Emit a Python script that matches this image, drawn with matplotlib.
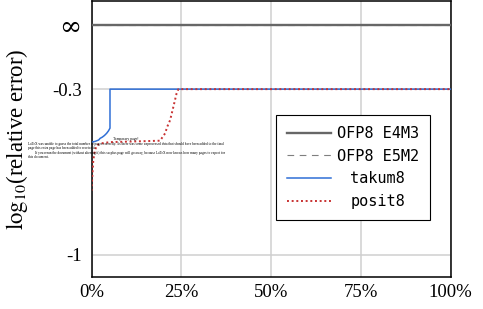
import numpy as np
import matplotlib
matplotlib.use("Agg")
import matplotlib.pyplot as plt

plt.rcParams['font.family'] = ['Liberation Serif', 'DejaVu Serif']
plt.rcParams['mathtext.fontset'] = 'stix'

# ---- data (x in percent, y = log10(relative error); inf = infinite error) ----
x_ticks = [0, 25, 50, 75, 100]
x_ticklabels = ['0%', '25%', '50%', '75%', '100%']
y_ticks = [-1, -0.3, np.inf]
y_ticklabels = ['-1', '-0.3', '∞']

e4m3_x = [0, 100]
e4m3_y = [np.inf, np.inf]
e5m2_x = [0, 100]
e5m2_y = [np.inf, np.inf]
takum8_x = [0, 1, 2, 2.4, 3, 3.6, 4.2, 4.7, 5.15, 5.15, 100]
takum8_y = [-0.524, -0.521, -0.515, -0.508, -0.503, -0.496, -0.487, -0.477, -0.465, -0.3, -0.3]
posit8_x = [0, 0.33, 0.5, 0.97, 1.6, 2.8, 5.15, 19.1, 20.5, 21.1, 21.9, 22.8, 23.7, 24.2, 100]
posit8_y = [-0.73, -0.642, -0.600, -0.557, -0.536, -0.529, -0.524, -0.518, -0.487,
            -0.459, -0.431, -0.375, -0.318, -0.3, -0.3]

INF_Y = -0.03  # vertical position used to draw "infinity"


def fin(v):
    return [INF_Y if np.isinf(a) else a for a in v]


fig = plt.figure(figsize=(4.83, 3.09), dpi=100)
ax = fig.add_axes([91.5 / 483, 32.3 / 309, 359 / 483, 275.3 / 309])

ax.plot(e5m2_x, fin(e5m2_y), color='#7f7f7f', lw=0.8, dashes=(6, 5), zorder=3,
        label='OFP8 E5M2')
ax.plot(e4m3_x, fin(e4m3_y), color='#676767', lw=1.7, zorder=4, label='OFP8 E4M3')
ax.plot(takum8_x, takum8_y, color='#2f6fd6', lw=1.1, zorder=5, label='takum8')
ax.plot(posit8_x, posit8_y, color='#c83232', lw=1.4, dashes=(1, 1.4), zorder=6,
        label='posit8')

ax.set_xlim(0, 100)
ax.set_ylim(-1.093, 0.071)
ax.set_xticks(x_ticks)
ax.set_xticklabels(x_ticklabels)
yt = fin(y_ticks)
ax.set_yticks(yt)
ax.set_yticklabels(y_ticklabels[:2] + [''])
ax.tick_params(axis='both', length=0, labelsize=13.5)
ax.tick_params(axis='x', pad=5)
ax.tick_params(axis='y', pad=7)
# infinity tick label (larger glyph), placed at the infinity gridline
fig.text(81 / 483, 1 - 25 / 309, y_ticklabels[2], ha='right', va='center_baseline',
         fontsize=19, rotation=0, family=['DejaVu Serif'])
ax.grid(True, color='#cfcfcf', lw=1.1)
ax.set_axisbelow(True)
for s in ax.spines.values():
    s.set_linewidth(1.1)
    s.set_color('black')

ax.set_ylabel(r'$\mathrm{log}_{10}$(relative error)', fontsize=16.5)
ax.yaxis.set_label_coords(-0.172, 0.5)

h, l = ax.get_legend_handles_labels()
order = [1, 0, 2, 3]
leg = ax.legend([h[i] for i in order], [l[i] for i in order],
                loc='upper left', bbox_to_anchor=(0.513, 0.589), borderaxespad=0,
                prop={'family': 'DejaVu Sans Mono', 'size': 11},
                handlelength=2.9, handletextpad=0.35, labelspacing=0.5,
                borderpad=0.75, fancybox=False, framealpha=1, edgecolor='black')
leg.get_frame().set_linewidth(0.8)

# center the legend labels like the original
fig.canvas.draw()
r = fig.canvas.get_renderer()
texts = leg.get_texts()
widths = [t.get_window_extent(r).width for t in texts]
wmax = max(widths)
for t, w in zip(texts, widths):
    t.set_x((wmax - w) / 2)

# stray LaTeX "temporary page" text present in the original
fig.text(113 / 483, 1 - 139 / 309, 'Temporary page!', fontsize=2.7, va='center',
         ha='left', zorder=10)
lines = [
    (28, 144, 'LaTeX was unable to guess the total number of pages correctly. As there was some unprocessed data that should have been added to the final'),
    (28, 148.3, 'page this extra page has been added to receive it.'),
    (35, 152.8, 'If you rerun the document (without altering it) this surplus page will go away, because LaTeX now knows how many pages to expect for'),
    (28, 157, 'this document.'),
]
for px, py, s in lines:
    fig.text(px / 483, 1 - py / 309, s, fontsize=2.5, va='center', ha='left',
             zorder=10)

fig.savefig('out.png', dpi=100)
